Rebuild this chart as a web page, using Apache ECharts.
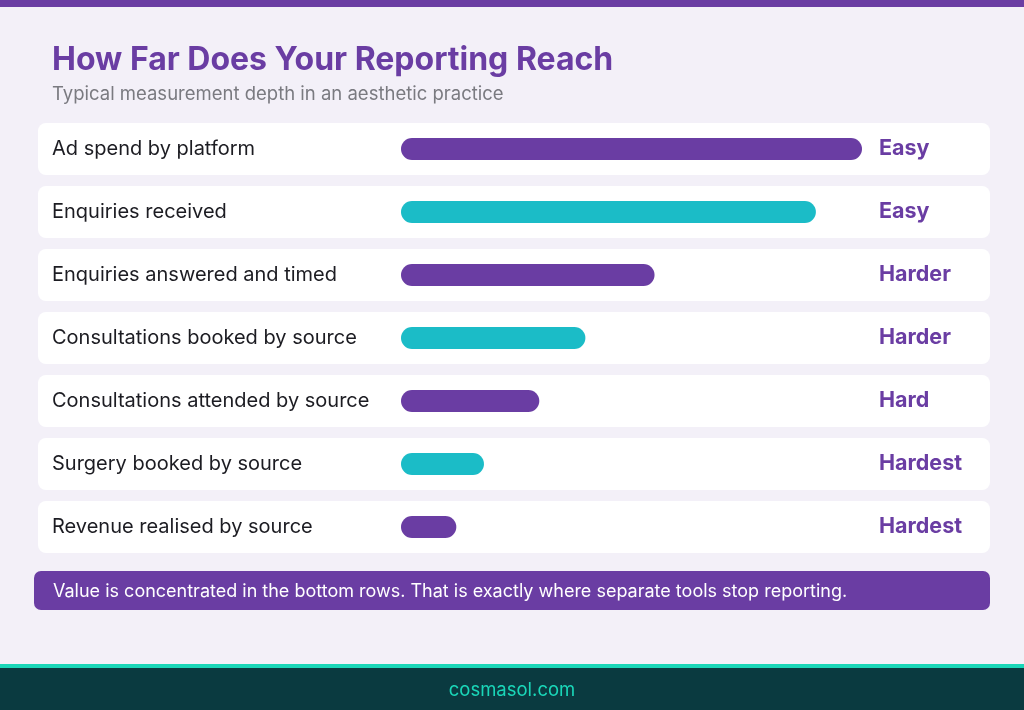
<!DOCTYPE html>
<html>
<head>
<meta charset="utf-8">
<title>How Far Does Your Reporting Reach</title>
<script src="https://cdn.jsdelivr.net/npm/echarts@6/dist/echarts.min.js"></script>
<style>
  html, body { margin: 0; padding: 0; background: #f3f0f8; }
  #chart { width: 1024px; height: 710px; }
</style>
</head>
<body>
<div id="chart"></div>
<script>
// data
var steps = [
  'Ad spend by platform',
  'Enquiries received',
  'Enquiries answered and timed',
  'Consultations booked by source',
  'Consultations attended by source',
  'Surgery booked by source',
  'Revenue realised by source'
];
var depth = [100, 90, 55, 40, 30, 18, 12];
var ratings = ['Easy', 'Easy', 'Harder', 'Harder', 'Hard', 'Hardest', 'Hardest'];
var note = 'Value is concentrated in the bottom rows. That is exactly where separate tools stop reporting.';
var site = 'cosmasol.com';

var PURPLE = '#6a3da3';
var TEAL = '#1bbcc7';
var FONT = 'Inter, "Noto Sans", sans-serif';

var dom = document.getElementById('chart');
var myChart = echarts.init(dom, null, { renderer: 'canvas' });

// white row cards behind every step
function renderRow(params, api) {
  var c = api.coord([0, api.value(0)]);
  var h = api.size([0, 1])[1] - 11;
  return {
    type: 'rect',
    shape: { x: 38, y: c[1] - h / 2, width: 952, height: h, r: 8 },
    style: { fill: '#ffffff' },
    silent: true
  };
}

var option = {
  backgroundColor: '#f3f0f8',
  animation: false,
  title: {
    text: 'How Far Does Your Reporting Reach',
    subtext: 'Typical measurement depth in an aesthetic practice',
    left: 47,
    top: 39,
    itemGap: 9,
    textStyle: { color: PURPLE, fontSize: 32, fontWeight: 700, fontFamily: FONT },
    subtextStyle: { color: '#7a7a80', fontSize: 18.5, fontFamily: FONT }
  },
  grid: { left: 401, right: 162, top: 117.5, bottom: 151.5 },
  xAxis: { type: 'value', min: 0, max: 100, show: false },
  yAxis: [{
    type: 'category',
    data: steps,
    inverse: true,
    axisLine: { show: false },
    axisTick: { show: false },
    axisLabel: {
      align: 'left',
      margin: 349,
      padding: [4, 0, 0, 0],
      color: '#1c1c22',
      fontSize: 20,
      fontFamily: FONT
    }
  }, {
    type: 'category',
    data: ratings,
    inverse: true,
    position: 'right',
    axisLine: { show: false },
    axisTick: { show: false },
    axisLabel: {
      align: 'left',
      margin: 17,
      padding: [4, 0, 0, 0],
      color: PURPLE,
      fontSize: 21.5,
      fontWeight: 700,
      fontFamily: FONT
    }
  }],
  series: [{
    type: 'custom',
    renderItem: renderRow,
    data: steps.map(function (s, i) { return [i]; }),
    encode: { y: 0 },
    z: 0,
    silent: true
  }, {
    type: 'bar',
    data: depth.map(function (v, i) {
      return { value: v, itemStyle: { color: i % 2 === 0 ? PURPLE : TEAL } };
    }),
    barWidth: 22,
    itemStyle: { borderRadius: 11 },
    z: 2,
    silent: true
  }],
  graphic: [{
    type: 'rect',
    shape: { x: 0, y: 0, width: 1024, height: 7 },
    style: { fill: PURPLE }
  }, {
    type: 'group',
    children: [{
      type: 'rect',
      shape: { x: 34, y: 571, width: 956, height: 39, r: 7 },
      style: { fill: PURPLE }
    }, {
      type: 'text',
      x: 53,
      y: 592,
      style: {
        text: note,
        fill: '#ffffff',
        fontSize: 18,
        fontFamily: FONT,
        verticalAlign: 'middle'
      }
    }]
  }, {
    type: 'rect',
    shape: { x: 0, y: 664, width: 1024, height: 4 },
    style: { fill: '#1ad6b8' }
  }, {
    type: 'rect',
    shape: { x: 0, y: 668, width: 1024, height: 42 },
    style: { fill: '#0a3a40' }
  }, {
    type: 'text',
    x: 512,
    y: 690,
    style: {
      text: site,
      fill: '#1ad6b8',
      fontSize: 18.5,
      fontFamily: FONT,
      align: 'center',
      verticalAlign: 'middle'
    }
  }]
};

myChart.setOption(option);
</script>
</body>
</html>
